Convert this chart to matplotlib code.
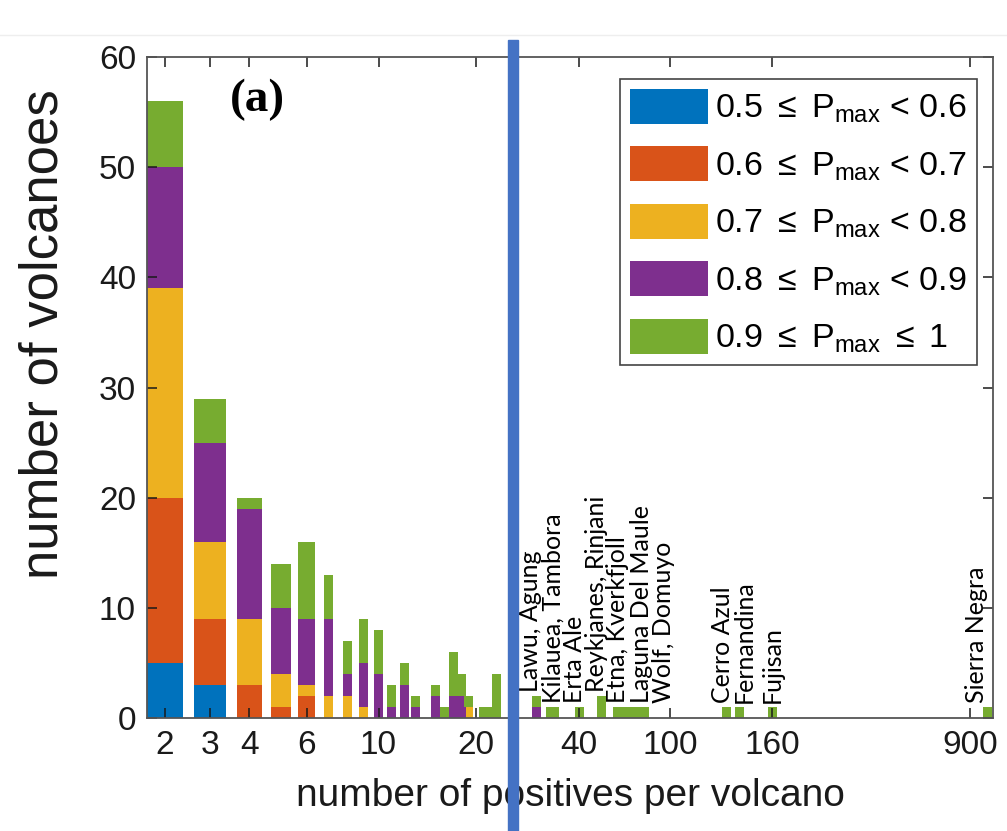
import numpy as np
import matplotlib as mpl
mpl.use("Agg")
import matplotlib.pyplot as plt
from matplotlib.patches import Patch, Rectangle
from matplotlib.lines import Line2D

# number of positives per volcano for every drawn bar
N_POS = [2, 3, 4, 5, 6, 7, 8, 9, 10, 11, 12, 13, 15, 16, 17, 18, 19, 21, 22, 23,
         30, 33, 34, 40, 50, 59, 63, 67, 72, 77, 130, 138, 160, 1050]
# number of volcanoes in each P_max class (stacked bottom to top)
P050_060 = [5, 3, 0, 0, 0, 0, 0, 0, 0, 0, 0, 0, 0, 0, 0, 0, 0, 0, 0, 0,
            0, 0, 0, 0, 0, 0, 0, 0, 0, 0, 0, 0, 0, 0]
P060_070 = [15, 6, 3, 1, 2, 0, 0, 0, 0, 0, 0, 0, 0, 0, 0, 0, 0, 0, 0, 0,
            0, 0, 0, 0, 0, 0, 0, 0, 0, 0, 0, 0, 0, 0]
P070_080 = [19, 7, 6, 3, 1, 2, 2, 1, 0, 0, 0, 0, 0, 0, 0, 0, 1, 0, 0, 0,
            0, 0, 0, 0, 0, 0, 0, 0, 0, 0, 0, 0, 0, 0]
P080_090 = [11, 9, 10, 6, 6, 7, 2, 4, 4, 1, 3, 1, 2, 0, 2, 2, 0, 0, 0, 0,
            1, 0, 0, 0, 0, 0, 0, 0, 0, 0, 0, 0, 0, 0]
P090_100 = [6, 4, 1, 4, 7, 4, 3, 4, 4, 2, 2, 1, 1, 1, 4, 2, 1, 1, 1, 4,
            1, 1, 1, 1, 2, 1, 1, 1, 1, 1, 1, 1, 1, 1]
CLASS_LABELS = [r"0.5 $\leq$ P$_\mathregular{max}$ < 0.6",
                r"0.6 $\leq$ P$_\mathregular{max}$ < 0.7",
                r"0.7 $\leq$ P$_\mathregular{max}$ < 0.8",
                r"0.8 $\leq$ P$_\mathregular{max}$ < 0.9",
                r"0.9 $\leq$ P$_\mathregular{max}$ $\leq$ 1"]

VOLCANOES = ["Lawu, Agung", "Kilauea, Tambora", "Erta Ale", "Reykjanes, Rinjani",
             "Etna, Kverkfjoll", "Laguna Del Maule", "Wolf, Domuyo", "Cerro Azul",
             "Fernandina", "Fujisan", "Sierra Negra"]
VOLCANO_N = [30, 33.5, 40, 50, 59, 67, 77, 130, 138, 160, 1050]
VOLCANO_H = [2, 1, 1, 2, 1, 1, 1, 1, 1, 1, 1]

TICK_N = [2, 3, 4, 6, 10, 20, 40, 100, 160, 900]

# compressed x axis: anchor units for the tick values (log-interpolated between)
TICK_U = [165, 210, 249.5, 306.5, 378.5, 476, 579, 670, 772, 970]
U_LIM = (147, 993)
NARROW_W = 9.0
WIDE_UPTO = 6
LABEL_DX = [-5.5, 0, -4, -5, 0, 11.5, 19.5, -4.5, 4.5, 0, -11]

COLORS = ["#0072BD", "#D95319", "#EDB120", "#7E2F8E", "#77AC30"]
DARK = "#1a1a1a"

plt.rcParams.update({
    "font.family": ["Liberation Sans", "DejaVu Sans"],
    "mathtext.fontset": "custom",
    "mathtext.rm": "Liberation Sans",
    "mathtext.it": "Liberation Sans:italic",
})


def _pw(x, xp, fp):
    x = np.asarray(x, float)
    xp = np.asarray(xp, float)
    fp = np.asarray(fp, float)
    y = np.interp(x, xp, fp)
    s0 = (fp[1] - fp[0]) / (xp[1] - xp[0])
    s1 = (fp[-1] - fp[-2]) / (xp[-1] - xp[-2])
    y = np.where(x < xp[0], fp[0] + (x - xp[0]) * s0, y)
    y = np.where(x > xp[-1], fp[-1] + (x - xp[-1]) * s1, y)
    return y


LOG_T = np.log(TICK_N)


def fwd(n):
    return _pw(np.log(np.clip(np.asarray(n, float), 1e-3, None)), LOG_T, TICK_U)


def inv(u):
    return np.exp(_pw(u, TICK_U, LOG_T))


fig = plt.figure(figsize=(10.07, 8.31), dpi=100)
ax = fig.add_axes([147 / 1007, 113 / 831, 846 / 1007, 661 / 831])
ax.set_xscale("function", functions=(fwd, inv))

n = np.array(N_POS, float)
u = fwd(n)
w = np.where(n <= WIDE_UPTO, 0.8 * (fwd(n + 1) - u), NARROW_W)
left = inv(u - w / 2)
right = inv(u + w / 2)

bottom = np.zeros(len(N_POS))
series = [P050_060, P060_070, P070_080, P080_090, P090_100]
for vals, col in zip(series, COLORS):
    vals = np.array(vals, float)
    ax.bar(left, vals, width=right - left, bottom=bottom, align="edge",
           color=col, linewidth=0)
    bottom += vals

for name, vn, vh, dx in zip(VOLCANOES, VOLCANO_N, VOLCANO_H, LABEL_DX):
    ax.annotate(name, (vn, vh + 0.4), xytext=(dx * 0.72, 0),
                textcoords="offset points", rotation=90, ha="center",
                va="bottom", fontsize=18, family=["Lato", "DejaVu Sans"],
                color="black")

ax.set_xlim(inv(U_LIM[0]), inv(U_LIM[1]))
ax.set_ylim(0, 60)
ax.set_xticks(TICK_N)
ax.set_xticklabels([str(t) for t in TICK_N])
ax.minorticks_off()
ax.set_yticks(range(0, 61, 10))
ax.tick_params(direction="in", length=7, width=1.1, colors=DARK,
               labelsize=24, top=True, right=True)
ax.tick_params(axis="x", pad=9)
ax.tick_params(axis="y", pad=8)
for sp in ax.spines.values():
    sp.set_color("#555555")
    sp.set_linewidth(1.3)

ax.set_xlabel("number of positives per volcano", fontsize=28, color=DARK,
              labelpad=12)
ax.set_ylabel("number of volcanoes", fontsize=38, color=DARK)
ax.yaxis.set_label_coords(-0.093, 0.581)

ax.text(0.131, 0.935, "(a)", transform=ax.transAxes, ha="center", va="center",
        fontsize=34, fontweight="bold", family=["Liberation Serif", "DejaVu Serif"])

handles = [Patch(facecolor=c, edgecolor="none") for c in COLORS]
leg = ax.legend(handles, CLASS_LABELS, loc="upper right",
                bbox_to_anchor=(0.981, 0.967), borderaxespad=0, fontsize=24.5,
                handlelength=2.3, handleheight=1.2, handletextpad=0.2,
                labelspacing=0.62, borderpad=0.3, fancybox=False,
                framealpha=1)
leg.get_frame().set_edgecolor("#444444")
leg.get_frame().set_linewidth(1.2)

fig.add_artist(Line2D([0, 1], [1 - 35 / 831] * 2, transform=fig.transFigure,
                      color="#eeeeee", lw=1))
fig.add_artist(Rectangle((508 / 1007, 0), 10 / 1007, 1 - 40 / 831,
                         transform=fig.transFigure, color="#4472C4", zorder=10))

fig.savefig("out.png", dpi=100)
